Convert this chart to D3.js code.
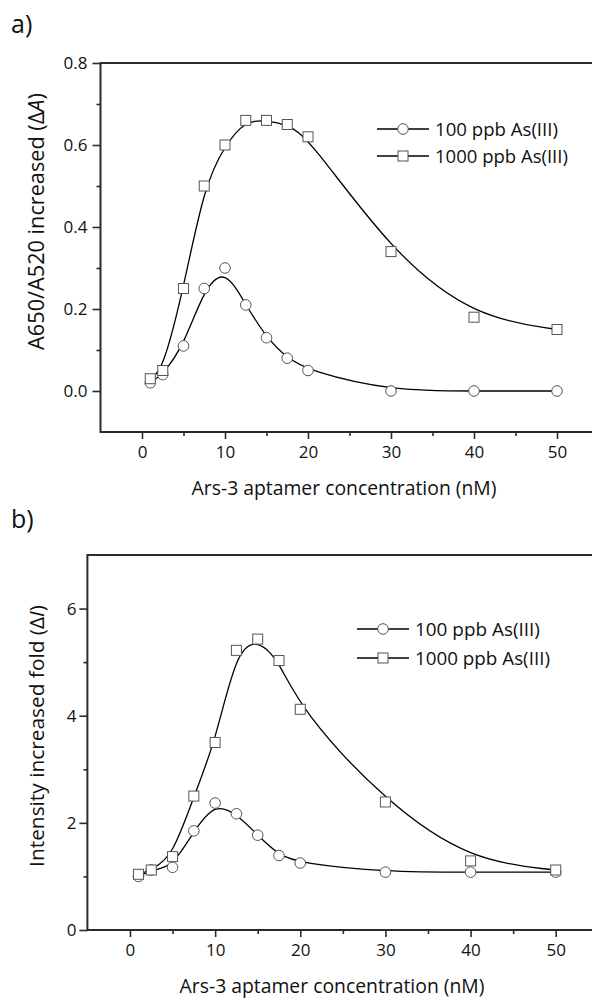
<!DOCTYPE html>
<html><head><meta charset="utf-8">
<script src="https://cdn.jsdelivr.net/npm/d3@7"></script>
<style>
body{margin:0;background:#fff}
svg{display:block}
text{font-family:"Open Sans",sans-serif;fill:#111}
</style>
</head><body>
<svg id="c" width="592" height="1001"></svg>
<script>
// ---- data ----
const conc = [1, 2.5, 5, 7.5, 10, 12.5, 15, 17.5, 20, 30, 40, 50];
const seriesNames = ["100 ppb As(III)", "1000 ppb As(III)"];
const absLow  = [0.02, 0.04, 0.11, 0.25, 0.30, 0.21, 0.13, 0.08, 0.05, 0.00, 0.00, 0.00];
const absHigh = [0.03, 0.05, 0.25, 0.50, 0.60, 0.66, 0.66, 0.65, 0.62, 0.34, 0.18, 0.15];
const intLow  = [1.00, 1.12, 1.17, 1.85, 2.37, 2.17, 1.77, 1.39, 1.25, 1.08, 1.08, 1.08];
const intHigh = [1.04, 1.12, 1.37, 2.50, 3.50, 5.22, 5.43, 5.03, 4.12, 2.39, 1.29, 1.12];
const xMajor = [0, 10, 20, 30, 40, 50];
const xMinor = [5, 15, 25, 35, 45];
const yMajorA = [0, 0.2, 0.4, 0.6, 0.8];
const yMinorA = [0.1, 0.3, 0.5, 0.7];
const yMajorB = [0, 2, 4, 6];
const yMinorB = [1, 3, 5];
const xTitle = "Ars-3 aptamer concentration (nM)";

const svg = d3.select("#c");
const AX = "#2a2a2a";

function fit(t, w) {
  const fs = parseFloat(t.style("font-size"));
  const L = t.node().getComputedTextLength();
  t.style("font-size", (fs * w / L) + "px");
}

function panel(cfg) {
  const x = d3.scaleLinear().domain([-5, 55]).range(cfg.xr);
  const y = d3.scaleLinear().domain(cfg.yd).range(cfg.yr);
  const g = svg.append("g");
  const x0 = x(-5), x1 = x(55), yb = y(cfg.yd[0]), yt = y(cfg.yd[1]);

  // ticks
  g.append("g").attr("transform", `translate(0,${yb})`)
    .call(d3.axisBottom(x).tickValues(xMajor).tickSize(7).tickPadding(7).tickSizeOuter(0));
  g.append("g").attr("transform", `translate(0,${yb})`)
    .call(d3.axisBottom(x).tickValues(xMinor).tickSize(4).tickFormat("").tickSizeOuter(0));
  g.append("g").attr("transform", `translate(${x0},0)`)
    .call(d3.axisLeft(y).tickValues(cfg.yMajor).tickSize(8).tickPadding(cfg.ypad).tickFormat(cfg.fmt).tickSizeOuter(0));
  g.append("g").attr("transform", `translate(${x0},0)`)
    .call(d3.axisLeft(y).tickValues(cfg.yMinor).tickSize(4).tickFormat("").tickSizeOuter(0));
  g.selectAll(".domain").remove();
  g.selectAll(".tick line").attr("stroke", AX).attr("stroke-width", 1.6);
  g.selectAll(".tick text").style("font-family", '"Open Sans",sans-serif').style("font-size", "17px").attr("fill", "#111");

  // frame
  g.append("rect").attr("x", x0).attr("y", yt).attr("width", x1 - x0).attr("height", yb - yt)
    .attr("fill", "none").attr("stroke", AX).attr("stroke-width", 2);

  // series
  const line = d3.line().x((d, i) => x(conc[i])).y(d => y(d)).curve(d3.curveBasis);
  cfg.series.forEach((vals, si) => {
    g.append("path").attr("d", line(vals)).attr("fill", "none").attr("stroke", "#000").attr("stroke-width", 1.3);
    drawMarkers(g, si, vals.map((v, i) => [x(conc[i]), y(v)]));
  });

  // legend
  seriesNames.forEach((name, si) => {
    const ly0 = cfg.leg[1] + si * cfg.legGap;
    g.append("line").attr("x1", cfg.leg[0]).attr("x2", cfg.leg[0] + 52).attr("y1", ly0).attr("y2", ly0)
      .attr("stroke", "#000").attr("stroke-width", 1.3);
    drawMarkers(g, si, [[cfg.leg[0] + 26, ly0]]);
    const t = g.append("text").attr("x", cfg.leg[0] + 58).attr("y", ly0 + 7).style("font-size", "18px").text(name);
    fit(t, cfg.legW[si]);
  });

  // x title
  const xt = g.append("text").attr("x", cfg.xt[0]).attr("y", cfg.xt[1]).attr("text-anchor", "middle")
    .style("font-size", "19px").text(xTitle);
  fit(xt, cfg.xtW);

  // y title
  const yt2 = g.append("text").attr("transform", `translate(${cfg.yt[0]},${cfg.yt[1]}) rotate(-90)`)
    .attr("text-anchor", "middle").style("font-size", "20px");
  yt2.append("tspan").text(cfg.ytitle[0]);
  yt2.append("tspan").style("font-style", "italic").text(cfg.ytitle[1]);
  yt2.append("tspan").text(cfg.ytitle[2]);
  fit(yt2, cfg.ytW);

  // panel label
  svg.append("text").attr("x", 11).attr("y", cfg.lab[1]).style("font-size", "25px").text(cfg.lab[0]);
}

function drawMarkers(g, si, pts) {
  if (si === 0) {
    g.selectAll(null).data(pts).enter().append("circle")
      .attr("cx", d => d[0]).attr("cy", d => d[1]).attr("r", 5.3)
      .attr("fill", "#fff").attr("stroke", "#555").attr("stroke-width", 1);
  } else {
    g.selectAll(null).data(pts).enter().append("rect")
      .attr("x", d => d[0] - 5).attr("y", d => d[1] - 5).attr("width", 10).attr("height", 10)
      .attr("fill", "#fff").attr("stroke", "#555").attr("stroke-width", 1);
  }
}

panel({
  xr: [100.5, 598.5], yd: [-0.1, 0.8], yr: [432, 63],
  yMajor: yMajorA, yMinor: yMinorA, fmt: d3.format(".1f"), ypad: 5,
  series: [absLow, absHigh],
  leg: [377, 129], legGap: 27, legW: [123, 133],
  xt: [344, 495], xtW: 305,
  yt: [44, 221.5], ytW: 257, ytitle: ["A650/A520 increased (\u0394", "A", ")"],
  lab: ["a)", 33]
});
panel({
  xr: [87.4, 598.3], yd: [0, 7], yr: [930, 555],
  yMajor: yMajorB, yMinor: yMinorB, fmt: d3.format("d"), ypad: 3,
  series: [intLow, intHigh],
  leg: [357, 629], legGap: 29, legW: [125, 135],
  xt: [332, 993], xtW: 305,
  yt: [44, 736], ytW: 262, ytitle: ["Intensity increased fold (\u0394", "I", ")"],
  lab: ["b)", 528]
});
</script>
</body></html>
